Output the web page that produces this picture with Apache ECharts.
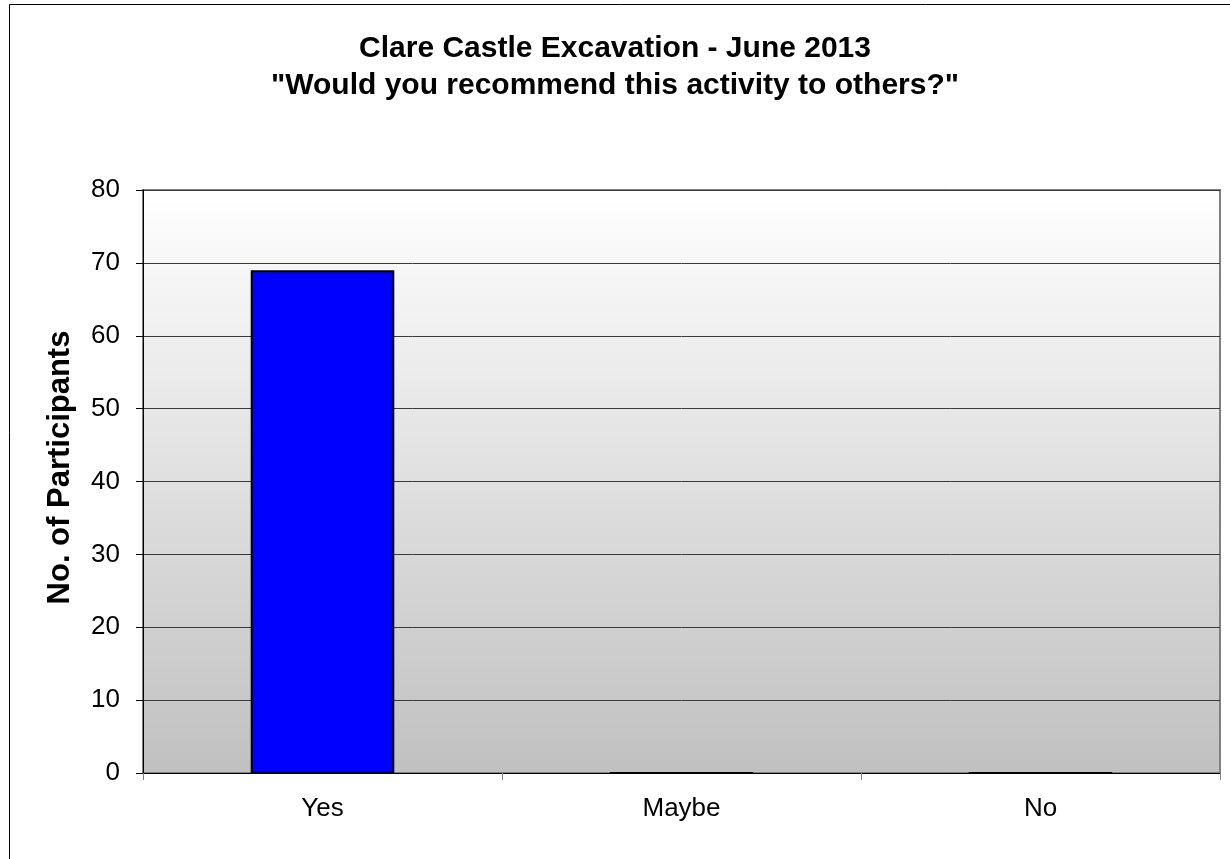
<!DOCTYPE html>
<html><head><meta charset="utf-8">
<script src="https://cdn.jsdelivr.net/npm/echarts@6/dist/echarts.min.js"></script>
<style>html,body{margin:0;padding:0;background:#fff}#c{width:1230px;height:859px}</style>
</head><body><div id="c"></div>
<script>
const categories = ["Yes", "Maybe", "No"];
const participants = [69, 0, 0];
const titleLines = ["Clare Castle Excavation - June 2013", "\"Would you recommend this activity to others?\""];
const yAxisName = "No. of Participants";

const chart = echarts.init(document.getElementById('c'), null, {renderer: 'canvas'});
const font = "'Liberation Sans', Arial, sans-serif";
chart.setOption({
  animation: false,
  graphic: [{
    type: 'rect', shape: {x: 9.5, y: 4.5, width: 1300, height: 1000},
    style: {fill: 'none', stroke: '#000', lineWidth: 1}, silent: true, z: -1
  }],
  title: {
    text: titleLines.join('\n'), left: 'center', top: 25,
    textStyle: {fontFamily: font, fontSize: 30, fontWeight: 'bold', color: '#000', lineHeight: 37}
  },
  grid: {
    left: 143, right: 10, top: 190, bottom: 86,
    show: true, borderColor: '#808080', borderWidth: 2,
    backgroundColor: {type: 'linear', x: 0, y: 0, x2: 0, y2: 1,
      colorStops: [{offset: 0, color: '#ffffff'}, {offset: 1, color: '#c0c0c0'}]}
  },
  xAxis: {
    type: 'category', data: categories,
    axisLine: {lineStyle: {color: '#000', width: 1}},
    axisTick: {show: true, alignWithLabel: false, length: 7, lineStyle: {color: '#808080'}},
    axisLabel: {fontFamily: font, fontSize: 26, color: '#000', margin: 23}
  },
  yAxis: {
    type: 'value', min: 0, max: 80, interval: 10,
    name: yAxisName, nameLocation: 'middle', nameGap: 67,
    nameTextStyle: {fontFamily: font, fontSize: 31, fontWeight: 'bold', color: '#000', padding: [0, 0, 0, 28]},
    axisLine: {show: true, lineStyle: {color: '#000', width: 1}},
    axisTick: {show: true, length: 7, lineStyle: {color: '#000'}},
    axisLabel: {fontFamily: font, fontSize: 26, color: '#000', margin: 23},
    splitLine: {show: true, lineStyle: {color: '#3a3a3a', width: 1}}
  },
  series: [{
    type: 'bar', data: participants, barWidth: '40%',
    itemStyle: {color: '#0000ff', borderColor: '#000', borderWidth: 2}
  }]
});
</script></body></html>
